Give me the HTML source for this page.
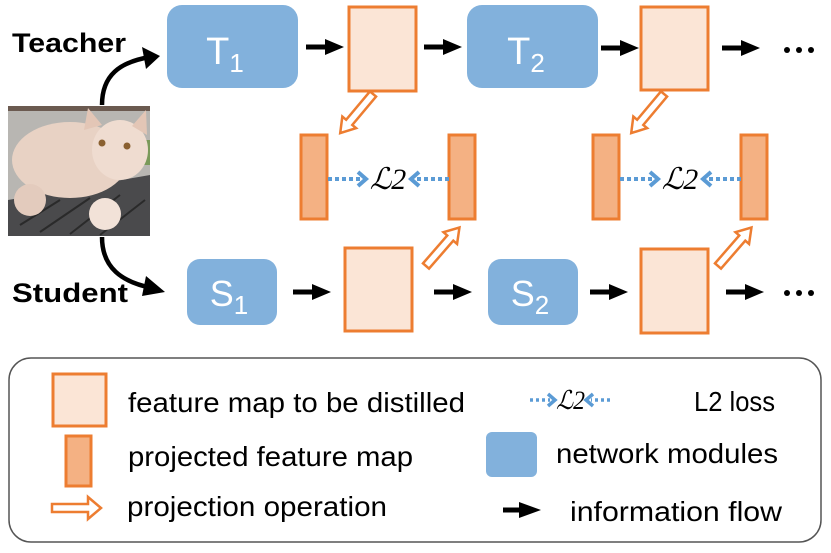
<!DOCTYPE html>
<html><head><style>
html,body{margin:0;padding:0;background:#fff;}
svg{display:block;}
text{font-family:"Liberation Sans",sans-serif;}
</style></head><body>
<svg width="831" height="553" viewBox="0 0 831 553" xmlns="http://www.w3.org/2000/svg">
<defs>
<g id="ha"><path d="M0,-4 L37,-4 L37,-9 L51,0 L37,9 L37,4 L0,4 Z" fill="#fff" stroke="#ED7D31" stroke-width="2.5" stroke-linejoin="miter"/></g>
<g id="bar"><path d="M0,0 L22,0" stroke="#000" stroke-width="5"/><path d="M19,-8 L38,0 L19,8 Z" fill="#000"/></g>
<g id="l2">
<path d="M0,0 L34,0" stroke="#5B9BD5" stroke-width="4" stroke-dasharray="4,3"/>
<path d="M30,-7 L38,0 L30,7" fill="none" stroke="#5B9BD5" stroke-width="4"/>
<path d="M121,0 L87,0" stroke="#5B9BD5" stroke-width="4" stroke-dasharray="4,3"/>
<path d="M91,-7 L83,0 L91,7" fill="none" stroke="#5B9BD5" stroke-width="4"/>
<text x="60" y="10" text-anchor="middle" font-style="italic" font-size="30" fill="#000" style="font-family:'Liberation Serif',serif">ℒ2</text>
</g>
</defs>

<!-- cat image -->
<rect x="8" y="106" width="142" height="130" fill="#b8b6b2"/>
<rect x="8" y="106" width="142" height="5" fill="#6b5a50"/>
<path d="M8,200 L150,175 L150,236 L8,236 Z" fill="#4a4a4c"/>
<path d="M20,225 L60,200 M40,232 L90,198 M70,234 L120,195 M100,235 L145,200" stroke="#2a2a2a" stroke-width="2"/>
<rect x="140" y="140" width="10" height="25" fill="#7a9a5a"/>
<ellipse cx="70" cy="160" rx="58" ry="38" fill="#e8d2c4"/>
<ellipse cx="120" cy="150" rx="28" ry="30" fill="#efdcd0"/>
<path d="M84,130 L88,108 L102,125 Z M132,126 L146,110 L147,135 Z" fill="#e3c6b6"/>
<ellipse cx="105" cy="214" rx="16" ry="16" fill="#f2e2d8"/>
<ellipse cx="30" cy="200" rx="16" ry="16" fill="#e3cbbd"/>
<circle cx="102" cy="143" r="3.5" fill="#8a6030"/><circle cx="127" cy="146" r="3.5" fill="#8a6030"/>

<!-- labels -->
<text x="12" y="52" font-size="27" font-weight="bold" textLength="114" lengthAdjust="spacingAndGlyphs">Teacher</text>
<text x="12" y="302" font-size="27" font-weight="bold" textLength="116" lengthAdjust="spacingAndGlyphs">Student</text>

<!-- curved arrows -->
<path d="M102,105 C102,75 120,62 150,57" fill="none" stroke="#000" stroke-width="4.5"/>
<path d="M142,47 L160,56 L146,69 Z" fill="#000"/>
<path d="M102,237 C102,268 122,282 152,288" fill="none" stroke="#000" stroke-width="4.5"/>
<path d="M146,276 L165,292 L142,296 Z" fill="#000"/>

<!-- teacher blocks -->
<rect x="167" y="5" width="131" height="83" rx="15" fill="#82B1DC"/>
<text x="225" y="64" font-size="38" fill="#fff" text-anchor="middle">T<tspan font-size="26" dy="8">1</tspan></text>
<rect x="467" y="5" width="131" height="83" rx="15" fill="#82B1DC"/>
<text x="526" y="64" font-size="38" fill="#fff" text-anchor="middle">T<tspan font-size="26" dy="8">2</tspan></text>

<rect x="349" y="7" width="67" height="84" fill="#FBE5D6" stroke="#ED7D31" stroke-width="3"/>
<rect x="641" y="7" width="67" height="83" fill="#FBE5D6" stroke="#ED7D31" stroke-width="3"/>

<use href="#bar" x="306" y="47"/>
<use href="#bar" x="424" y="47"/>
<use href="#bar" x="601" y="48"/>
<use href="#bar" x="722" y="48"/>
<g fill="#000"><circle cx="787" cy="50" r="3"/><circle cx="799" cy="50" r="3"/><circle cx="811" cy="50" r="3"/>
<circle cx="787" cy="293" r="3"/><circle cx="799" cy="293" r="3"/><circle cx="811" cy="293" r="3"/></g>

<!-- student -->
<rect x="187" y="259" width="90" height="66" rx="13" fill="#82B1DC"/>
<text x="229" y="306" font-size="36" fill="#fff" text-anchor="middle">S<tspan font-size="26" dy="8">1</tspan></text>
<rect x="488" y="259" width="90" height="66" rx="13" fill="#82B1DC"/>
<text x="530" y="306" font-size="36" fill="#fff" text-anchor="middle">S<tspan font-size="26" dy="8">2</tspan></text>

<rect x="345" y="248" width="67" height="83" fill="#FBE5D6" stroke="#ED7D31" stroke-width="3"/>
<rect x="641" y="249" width="67" height="84" fill="#FBE5D6" stroke="#ED7D31" stroke-width="3"/>

<use href="#bar" x="293" y="292"/>
<use href="#bar" x="434" y="292"/>
<use href="#bar" x="590" y="292"/>
<use href="#bar" x="726" y="292"/>

<!-- projected -->
<rect x="301" y="135" width="26" height="84" fill="#F4B183" stroke="#ED7D31" stroke-width="3"/>
<rect x="449" y="135" width="26" height="84" fill="#F4B183" stroke="#ED7D31" stroke-width="3"/>
<rect x="593" y="135" width="26" height="84" fill="#F4B183" stroke="#ED7D31" stroke-width="3"/>
<rect x="741" y="135" width="26" height="84" fill="#F4B183" stroke="#ED7D31" stroke-width="3"/>

<use href="#l2" x="328" y="179"/>
<use href="#l2" x="620" y="179"/>

<use href="#ha" transform="translate(373,94) rotate(130)"/>
<use href="#ha" transform="translate(426,266) rotate(-49)"/>
<use href="#ha" transform="translate(664,94) rotate(130)"/>
<use href="#ha" transform="translate(718,266) rotate(-49)"/>

<!-- legend -->
<rect x="9" y="358" width="812" height="184" rx="22" fill="#fff" stroke="#555" stroke-width="1.5"/>
<rect x="53" y="374" width="53" height="52" fill="#FBE5D6" stroke="#ED7D31" stroke-width="3"/>
<text x="128" y="412" font-size="28" textLength="337" lengthAdjust="spacingAndGlyphs">feature map to be distilled</text>
<rect x="66" y="436" width="25" height="50" fill="#F4B183" stroke="#ED7D31" stroke-width="3"/>
<text x="128" y="466" font-size="28" textLength="285" lengthAdjust="spacingAndGlyphs">projected feature map</text>
<path d="M52,504 L88,504 L88,497 L101,508 L88,519 L88,512 L52,512 Z" fill="#fff" stroke="#ED7D31" stroke-width="2.5"/>
<text x="127" y="516" font-size="28" textLength="260" lengthAdjust="spacingAndGlyphs">projection operation</text>

<g>
<path d="M530,400 L550,400" stroke="#5B9BD5" stroke-width="3.5" stroke-dasharray="3,3"/>
<path d="M548,394 L555,400 L548,406" fill="none" stroke="#5B9BD5" stroke-width="3.5"/>
<text x="556" y="409" font-style="italic" font-size="26" textLength="29" lengthAdjust="spacingAndGlyphs" style="font-family:'Liberation Serif',serif">ℒ2</text>
<path d="M610,400 L591,400" stroke="#5B9BD5" stroke-width="3.5" stroke-dasharray="3,3"/>
<path d="M593,394 L586,400 L593,406" fill="none" stroke="#5B9BD5" stroke-width="3.5"/>
</g>
<text x="694" y="411" font-size="28" textLength="81" lengthAdjust="spacingAndGlyphs">L2 loss</text>
<rect x="486" y="432" width="51" height="45" rx="6" fill="#82B1DC"/>
<text x="556" y="463" font-size="28" textLength="222" lengthAdjust="spacingAndGlyphs">network modules</text>
<path d="M503,510 L522,510" stroke="#000" stroke-width="5"/><path d="M519,502 L541,510 L519,518 Z" fill="#000"/>
<text x="570" y="521" font-size="28" textLength="212" lengthAdjust="spacingAndGlyphs">information flow</text>
</svg>
</body></html>
